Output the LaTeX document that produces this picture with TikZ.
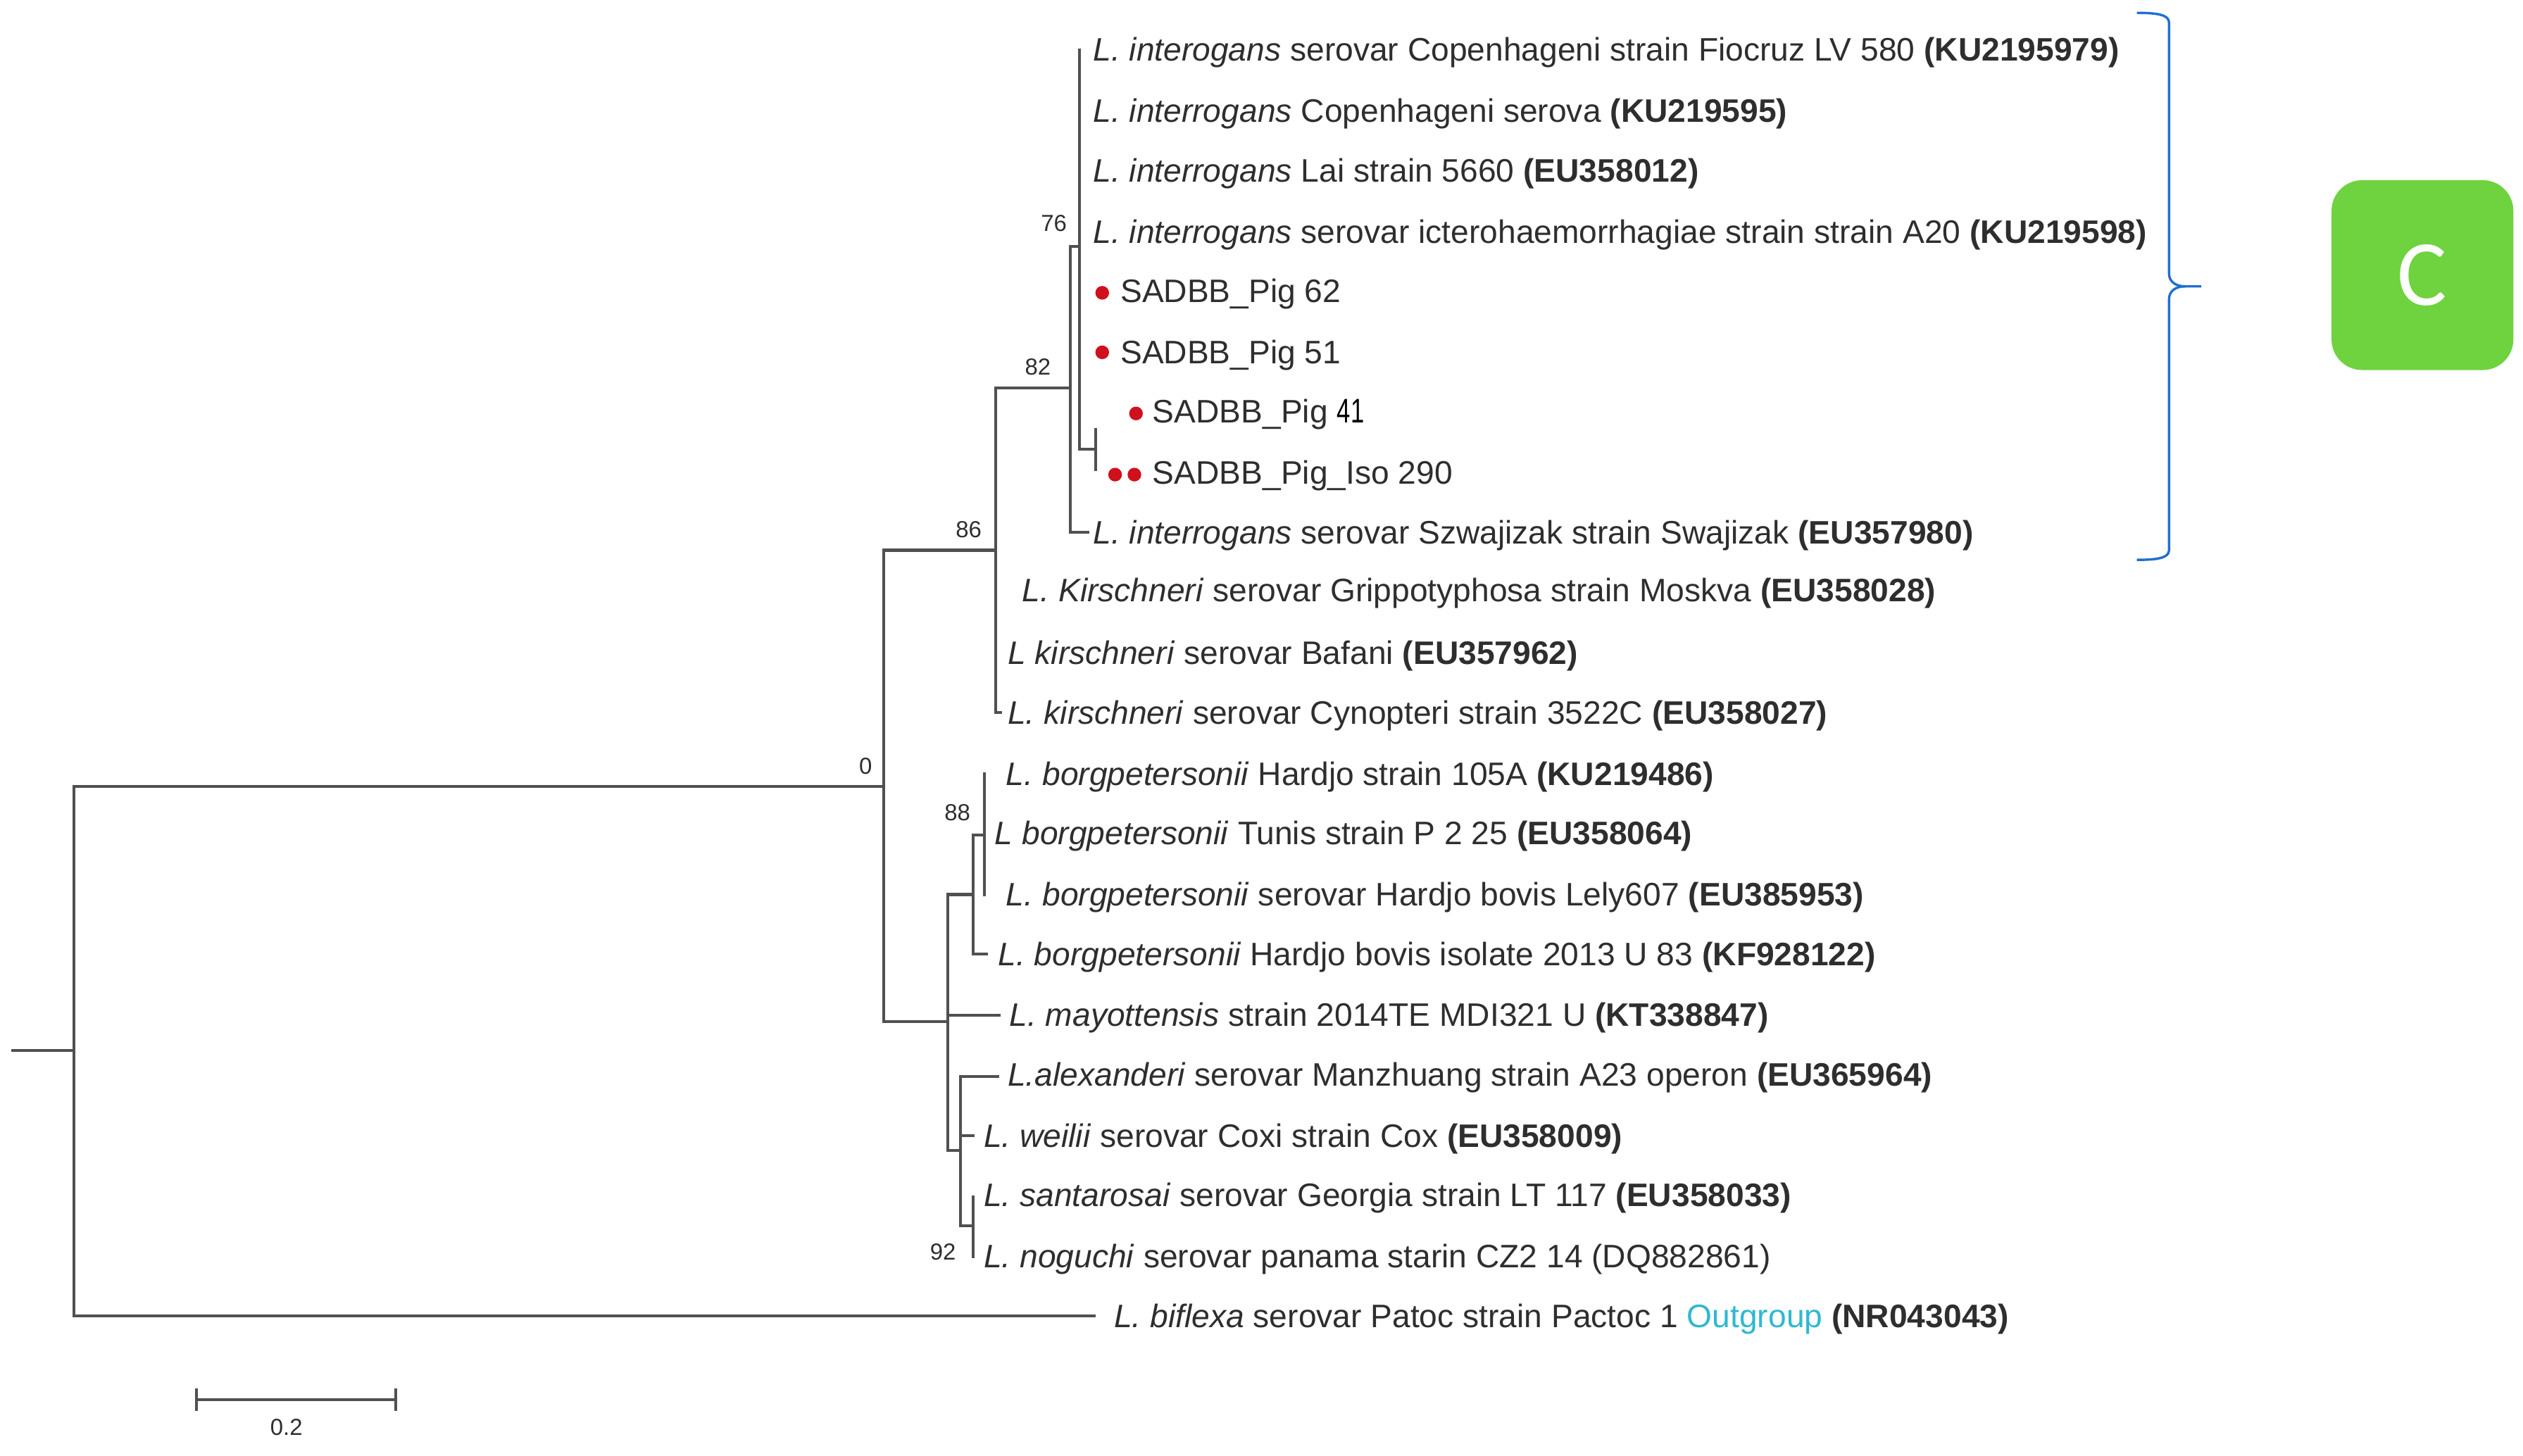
\documentclass[tikz,border=0pt]{standalone}
\usepackage{fontspec}
\setmainfont{Liberation Sans}
\newfontfamily\badgefont{Carlito}
\definecolor{branchgrey}{HTML}{505050}
\definecolor{taxongrey}{HTML}{2E2E2E}
\definecolor{outgroupcyan}{HTML}{2FB8D2}
\definecolor{bracketblue}{HTML}{1F6FD0}
\definecolor{badgegreen}{HTML}{6FD23F}
\definecolor{dotred}{HTML}{D0101C}
\newcommand{\sname}[2]{\textit{#1}\hspace{0.28em}\textit{#2}}
\tikzset{
    branch/.style={draw=branchgrey,line width=1pt,line cap=rect},
    leaf/.style={anchor=base west,inner sep=0pt,text=taxongrey,font=\fontsize{11.5}{13}\selectfont},
    support/.style={inner sep=0pt,text=taxongrey,font=\fontsize{8.2}{10}\selectfont},
    dot/.style={circle,fill=dotred,inner sep=0pt,minimum size=1.7mm},
}
\begin{document}
\begin{tikzpicture}[x=0.2mm,y=-0.2mm]
            \useasboundingbox (0,0) rectangle (1568,905);

            % taxa
            \node[leaf] (copen) at (679,38) {\sname{L.}{interogans} serovar Copenhageni strain Fiocruz LV 580 \textbf{(KU2195979)}};
            \node[leaf] (copens) at (679,76) {\sname{L.}{interrogans} Copenhageni serova \textbf{(KU219595)}};
            \node[leaf] (lai) at (679,113) {\sname{L.}{interrogans} Lai strain 5660 \textbf{(EU358012)}};
            \node[leaf] (ictero) at (679,151) {\sname{L.}{interrogans} serovar icterohaemorrhagiae strain strain A20 \textbf{(KU219598)}};
            \node[leaf] (pig62) at (696,188) {SADBB\_Pig 62};
            \node[leaf] (pig51) at (696,226) {SADBB\_Pig 51};
            \node[leaf] (pig41) at (716,263) {SADBB\_Pig \textcolor{black}{\scalebox{0.75}[1.05]{41}}};
            \node[leaf] (iso290) at (716,301) {SADBB\_Pig\_Iso 290};
            \node[leaf] (szwaj) at (679,338) {\sname{L.}{interrogans} serovar Szwajizak strain Swajizak \textbf{(EU357980)}};
            \node[leaf] (grippo) at (635,374) {\sname{L.}{Kirschneri} serovar Grippotyphosa strain Moskva \textbf{(EU358028)}};
            \node[leaf] (bafani) at (626,413) {\textit{L kirschneri} serovar Bafani \textbf{(EU357962)}};
            \node[leaf] (cynop) at (626,450) {\sname{L.}{kirschneri} serovar Cynopteri strain 3522C \textbf{(EU358027)}};
            \node[leaf] (hardjo) at (625,488) {\sname{L.}{borgpetersonii} Hardjo strain 105A \textbf{(KU219486)}};
            \node[leaf] (tunis) at (618,525) {\textit{L borgpetersonii} Tunis strain P 2 25 \textbf{(EU358064)}};
            \node[leaf] (lely) at (625,563) {\sname{L.}{borgpetersonii} serovar Hardjo bovis Lely607 \textbf{(EU385953)}};
            \node[leaf] (bovis) at (620,600) {\sname{L.}{borgpetersonii} Hardjo bovis isolate 2013 U 83 \textbf{(KF928122)}};
            \node[leaf] (mayot) at (627,638) {\sname{L.}{mayottensis} strain 2014TE MDI321 U \textbf{(KT338847)}};
            \node[leaf] (alex) at (626,675) {\textit{L.alexanderi} serovar Manzhuang strain A23 operon \textbf{(EU365964)}};
            \node[leaf] (weilii) at (611,713) {\sname{L.}{weilii} serovar Coxi strain Cox \textbf{(EU358009)}};
            \node[leaf] (santa) at (611,750) {\sname{L.}{santarosai} serovar Georgia strain LT 117 \textbf{(EU358033)}};
            \node[leaf] (nogu) at (611,788) {\sname{L.}{noguchi} serovar panama starin CZ2 14 (DQ882861)};
            \node[leaf] (biflexa) at (692,825) {\sname{L.}{biflexa} serovar Patoc strain Pactoc 1 \textcolor{outgroupcyan}{Outgroup} \textbf{(NR043043)}};

            % red marks
            \node[dot] (dot62) at (685,182) {};
            \node[dot] (dot51) at (685,219) {};
            \node[dot] (dot41) at (706,257) {};
            \node[dot] (dotiso) at (693,295) {};
            \node[dot] (dotisob) at (705,295) {};

            % support values
            \node[support] (s0) at (538,476) {0};
            \node[support] (s86) at (602,329) {86};
            \node[support] (s82) at (645,228) {82};
            \node[support] (s76) at (655,139) {76};
            \node[support] (s88) at (595,505) {88};
            \node[support] (s92) at (586,778) {92};

            % junctions and tips
            \coordinate (stub) at (8,653); \coordinate (root) at (46,653);
            \coordinate (rootup) at (46,489); \coordinate (rootdown) at (46,818);
            \coordinate (ingroup) at (549,489); \coordinate (outtip) at (680,818);
            \coordinate (upper) at (549,342); \coordinate (lower) at (549,635);
            \coordinate (kirsch) at (619,342); \coordinate (kirschtop) at (619,241); \coordinate (kirschend) at (619,443); \coordinate (cynoptip) at (622,443);
            \coordinate (inter) at (665,241); \coordinate (intertop) at (665,153); \coordinate (interend) at (665,331); \coordinate (szwajtip) at (676,331);
            \coordinate (sero) at (671,153); \coordinate (serotop) at (671,31); \coordinate (seroend) at (671,279);
            \coordinate (pig) at (681,279); \coordinate (pigtop) at (681,267); \coordinate (pigend) at (681,292);
            \coordinate (mid) at (589,635); \coordinate (midtop) at (589,556); \coordinate (midend) at (589,715); \coordinate (midmay) at (589,631); \coordinate (maytip) at (621,631);
            \coordinate (borg) at (605,556); \coordinate (borgtop) at (605,519); \coordinate (borgend) at (605,593); \coordinate (bovistip) at (613,593);
            \coordinate (hard) at (612,519); \coordinate (hardtop) at (612,481); \coordinate (hardend) at (612,556);
            \coordinate (rest) at (597,715); \coordinate (resttop) at (597,669); \coordinate (restend) at (597,762); \coordinate (alextip) at (620,669);
            \coordinate (restwei) at (597,706); \coordinate (weitip) at (605,706);
            \coordinate (sant) at (605,762); \coordinate (santtop) at (605,744); \coordinate (santend) at (605,781);

            % tree
            \draw[branch] (stub) to (root); \draw[branch] (rootup) to (rootdown);
            \draw[branch] (rootup) to (ingroup); \draw[branch] (rootdown) to (outtip);
            \draw[branch] (upper) to (lower); \draw[branch] (upper) to (kirsch);
            \draw[branch] (kirschtop) to (kirschend); \draw[branch] (kirschend) to (cynoptip); \draw[branch] (kirschtop) to (inter);
            \draw[branch] (intertop) to (interend); \draw[branch] (interend) to (szwajtip); \draw[branch] (intertop) to (sero);
            \draw[branch] (serotop) to (seroend); \draw[branch] (seroend) to (pig); \draw[branch] (pigtop) to (pigend);
            \draw[branch] (lower) to (mid); \draw[branch] (midtop) to (midend); \draw[branch] (midmay) to (maytip);
            \draw[branch] (midtop) to (borg); \draw[branch] (borgtop) to (borgend); \draw[branch] (borgend) to (bovistip);
            \draw[branch] (borgtop) to (hard); \draw[branch] (hardtop) to (hardend);
            \draw[branch] (midend) to (rest); \draw[branch] (resttop) to (restend); \draw[branch] (resttop) to (alextip);
            \draw[branch] (restwei) to (weitip); \draw[branch] (restend) to (sant); \draw[branch] (santtop) to (santend);

            % scale bar
            \coordinate (barl) at (122,870); \coordinate (barr) at (246,870);
            \coordinate (barlt) at (122,864); \coordinate (barlb) at (122,876);
            \coordinate (barrt) at (246,864); \coordinate (barrb) at (246,876);
            \node[support] (barlabel) at (178,887) {0.2};
            \draw[branch] (barl) to (barr); \draw[branch] (barlt) to (barlb); \draw[branch] (barrt) to (barrb);

            % bracket and badge
            \coordinate (bracetop) at (1328,8); \coordinate (bracebot) at (1328,348); \coordinate (bracetip) at (1368,178);
            \draw[bracketblue,line width=0.85pt] (bracetop) .. controls (1340,8) and (1348,9) .. (1348,14) -- (1348,170) .. controls (1348,175) and (1352,178) .. (1358,178) -- (bracetip);
            \draw[bracketblue,line width=0.85pt] (bracebot) .. controls (1340,348) and (1348,347) .. (1348,342) -- (1348,186) .. controls (1348,181) and (1352,178) .. (1358,178);
            \node[fill=badgegreen,rounded corners=3.8mm,minimum width=22.6mm,minimum height=23.6mm,inner sep=0pt,text=white,font=\badgefont\fontsize{33}{36}\selectfont] (badge) at (1505.5,171) {C};
\end{tikzpicture}
\end{document}
